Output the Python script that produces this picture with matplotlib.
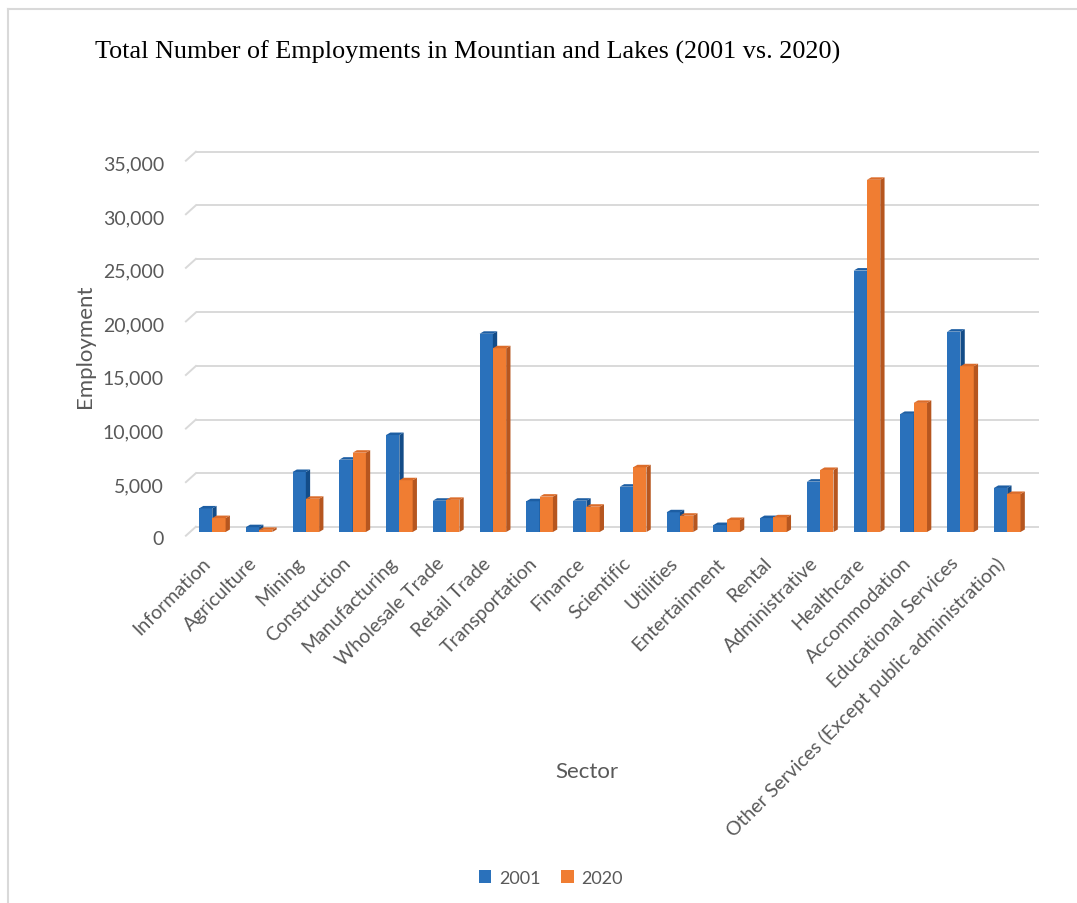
import matplotlib
matplotlib.use("Agg")
import matplotlib.pyplot as plt
from matplotlib.patches import Polygon, Patch
from matplotlib.lines import Line2D
from matplotlib import transforms
import numpy as np

# ---- data -------------------------------------------------------------
categories = [
    "Information", "Agriculture", "Mining", "Construction", "Manufacturing",
    "Wholesale Trade", "Retail Trade", "Transportation", "Finance", "Scientific",
    "Utilities", "Entertainment", "Rental", "Administrative", "Healthcare",
    "Accommodation", "Educational Services",
    "Other Services (Except public administration)",
]
emp_2001 = [2200, 450, 5600, 6750, 9050, 2920, 18500, 2870, 2920, 4230,
            1840, 650, 1300, 4700, 24400, 11020, 18700, 4110]
emp_2020 = [1300, 200, 3100, 7400, 4830, 3000, 17150, 3300, 2360, 6040,
            1520, 1120, 1370, 5790, 32870, 12050, 15470, 3550]
series_labels = ["2001", "2020"]
y_ticks = [0, 5000, 10000, 15000, 20000, 25000, 30000, 35000]

# ---- style ------------------------------------------------------------
BLUE = ("#2A71BB", "#1D5EA3", "#134C88")      # front, top, side
ORANGE = ("#F07D32", "#DB6C2A", "#B6561F")
GRID = "#D9D9D9"
TEXT = "#595959"
SANS = ["Lato", "DejaVu Sans"]

W, H = 1077, 904
fig = plt.figure(figsize=(W / 100, H / 100), dpi=100)
fig.patch.set_facecolor("white")

# plot area (front plane of the columns)
left, right, top, bottom = 190, 1033, 158, 533
ax = fig.add_axes([left / W, 1 - bottom / H, (right - left) / W, (bottom - top) / H])
ax.set_xlim(-0.477, 17.551)
ax.set_ylim(0, 35000)
ax.patch.set_visible(False)
for s in ax.spines.values():
    s.set_visible(False)

# pixel -> data scale factors
p00 = ax.transData.transform((0, 0))
px_x = ax.transData.transform((1, 0))[0] - p00[0]
px_y = ax.transData.transform((0, 1))[1] - p00[1]

# back wall gridlines and the slanted floor/side edges
back_dx, back_dy = 5.9, 5.3
front_dx, front_dy = -4.1, -3.7
back = transforms.offset_copy(ax.get_yaxis_transform(), fig=fig,
                              x=back_dx, y=back_dy, units="dots")
ax.hlines(y_ticks, 0, 1, transform=back, color=GRID, lw=1.4, zorder=1, clip_on=False)
x0 = ax.get_xlim()[0]
for v in y_ticks:
    ax.add_line(Line2D([x0 + front_dx / px_x, x0 + back_dx / px_x],
                       [v + front_dy / px_y, v + back_dy / px_y],
                       color=GRID, lw=1.4, zorder=1, clip_on=False))

# 3-D style columns
x = np.arange(len(categories))
bw = 13.3 / px_x
ddx = 4.3 / px_x
ddy = 2.5 / px_y

def column(xl, h, cols, z):
    front, topc, side = cols
    ax.bar(xl, h, width=bw, align="edge", color=front, zorder=z, lw=0)
    xr = xl + bw
    ax.add_patch(Polygon([(xr, 0), (xr + ddx, ddy), (xr + ddx, h + ddy), (xr, h)],
                         closed=True, fc=side, ec="none", zorder=z))
    ax.add_patch(Polygon([(xl, h), (xl + ddx, h + ddy), (xr + ddx, h + ddy), (xr, h)],
                         closed=True, fc=topc, ec="none", zorder=z))

for i in range(len(categories)):
    column(x[i] - bw, emp_2001[i], BLUE, 2)
    column(x[i], emp_2020[i], ORANGE, 3)

# axis tick labels
ax.set_yticks(y_ticks, [f"{t:,}" for t in y_ticks], fontsize=14, color=TEXT, family=SANS)
ax.tick_params(axis="y", length=0, pad=18.7)
yshift = transforms.ScaledTranslation(0, -5.5 / 100, fig.dpi_scale_trans)
for lbl in ax.get_yticklabels():
    lbl.set_transform(lbl.get_transform() + yshift)

ax.set_xticks(x, categories, rotation=45, ha="right", va="center",
              rotation_mode="anchor", fontsize=14, color=TEXT, family=SANS)
ax.tick_params(axis="x", length=0, pad=19.4)
xshift = transforms.ScaledTranslation(-5 / 100, -1 / 100, fig.dpi_scale_trans)
for lbl in ax.get_xticklabels():
    lbl.set_transform(lbl.get_transform() + xshift)

# titles
fig.text(95 / W, 1 - 52 / H, "Total Number of Employments in Mountian and Lakes (2001 vs. 2020)",
         family=["Liberation Serif", "DejaVu Serif"], fontsize=18.8, color="black",
         ha="left", va="center")
fig.text(85 / W, 1 - 346 / H, "Employment", rotation=90, ha="center", va="center",
         fontsize=16, color=TEXT, family=SANS)
fig.text(587 / W, 1 - 772 / H, "Sector", ha="center", va="center",
         fontsize=16, color=TEXT, family=SANS)

# legend
handles = [Patch(facecolor=BLUE[0], edgecolor="none"), Patch(facecolor=ORANGE[0], edgecolor="none")]
fig.legend(handles, series_labels, loc="center", bbox_to_anchor=(551 / W, 1 - 879 / H),
           ncol=2, frameon=False, handlelength=0.7, handleheight=0.7,
           handletextpad=0.45, columnspacing=1.1,
           prop={"family": SANS, "size": 13}, labelcolor=TEXT)

# chart border
fig.add_artist(Line2D([7.5 / W, 1], [1 - 9.5 / H, 1 - 9.5 / H], transform=fig.transFigure,
                      color=GRID, lw=1.5))
fig.add_artist(Line2D([7.5 / W, 7.5 / W], [0, 1 - 9.5 / H], transform=fig.transFigure,
                      color=GRID, lw=1.5))

fig.savefig("out.png", dpi=100, facecolor="white")
